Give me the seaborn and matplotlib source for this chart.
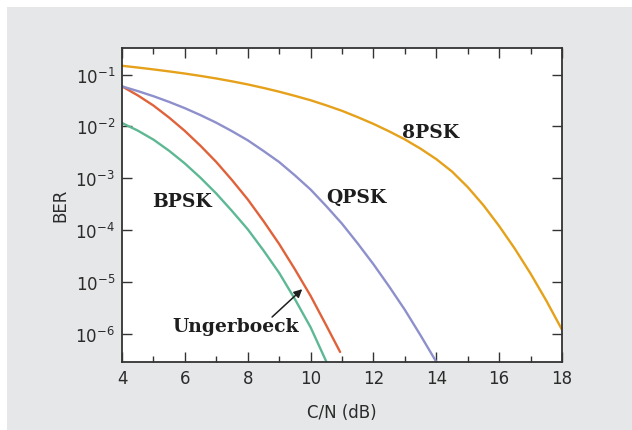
import numpy as np
import pandas as pd
import matplotlib
matplotlib.use("Agg")
import matplotlib.pyplot as plt
import seaborn as sns
from matplotlib.patches import Rectangle
from matplotlib.ticker import LogLocator, MultipleLocator, NullLocator, FuncFormatter

# Values (C/N in dB, BER)
cn_bpsk = [4, 4.5, 5, 5.5, 6, 6.5, 7, 7.5, 8, 8.5, 9, 9.5, 10, 10.5]
ber_bpsk = [1.164e-2, 8.32e-3, 5.57e-3, 3.39e-3, 1.93e-3, 1.02e-3, 5.08e-4, 2.34e-4,
            1.04e-4, 4.07e-5, 1.50e-5, 4.68e-6, 1.34e-6, 2.92e-7]

cn_ung = [4, 4.5, 5, 5.5, 6, 6.5, 7, 7.5, 8, 8.5, 9, 9.5, 10, 10.5, 10.94]
ber_ung = [5.93e-2, 3.98e-2, 2.53e-2, 1.48e-2, 8.18e-3, 4.22e-3, 2.06e-3, 9.23e-4,
           3.92e-4, 1.50e-4, 5.41e-5, 1.76e-5, 5.41e-6, 1.45e-6, 4.47e-7]

cn_qpsk = [4, 4.5, 5, 5.5, 6, 6.5, 7, 7.5, 8, 8.5, 9, 9.5, 10, 10.5, 11, 11.5, 12, 12.5, 13, 13.5, 14]
ber_qpsk = [5.93e-2, 4.81e-2, 3.83e-2, 2.97e-2, 2.25e-2, 1.65e-2, 1.18e-2, 8.09e-3,
            5.41e-3, 3.37e-3, 2.06e-3, 1.14e-3, 6.07e-4, 2.90e-4, 1.33e-4, 5.53e-5,
            2.20e-5, 8.18e-6, 2.90e-6, 9.33e-7, 2.88e-7]

cn_8psk = [4, 4.5, 5, 5.5, 6, 6.5, 7, 7.5, 8, 8.5, 9, 9.5, 10, 10.5, 11, 11.5, 12, 12.5,
           13, 13.5, 14, 14.5, 15, 15.5, 16, 16.5, 17, 17.5, 18]
ber_8psk = [0.1479, 0.1368, 0.1259, 0.1151, 0.1047, 0.0942, 0.0841, 0.0741, 0.0646,
            0.0553, 0.0468, 0.0389, 0.0320, 0.0255, 0.0200, 0.0151, 0.0112, 8.04e-3,
            5.62e-3, 3.72e-3, 2.34e-3, 1.35e-3, 6.76e-4, 3.02e-4, 1.20e-4, 4.37e-5,
            1.45e-5, 4.37e-6, 1.20e-6]

series = {"BPSK": (cn_bpsk, ber_bpsk), "Ungerboeck": (cn_ung, ber_ung),
          "QPSK": (cn_qpsk, ber_qpsk), "8PSK": (cn_8psk, ber_8psk)}
colors = {"BPSK": "#5db894", "Ungerboeck": "#e0623a", "QPSK": "#8e90cc", "8PSK": "#e6a11a"}

df = pd.concat([pd.DataFrame({"cn": x, "ber": y, "scheme": k}) for k, (x, y) in series.items()],
               ignore_index=True)

sns.set_style("ticks")
plt.rcParams['font.family'] = ['DejaVu Sans']
plt.rcParams['mathtext.default'] = 'regular'
plt.rcParams['axes.unicode_minus'] = False

fig = plt.figure(figsize=(6.32, 4.31), dpi=100, facecolor="white")
# grey panel behind the chart
fig.patches.append(Rectangle((7 / 632, 0), 1, 1 - 8 / 431, transform=fig.transFigure,
                             facecolor="#e6e7e8", edgecolor="none", zorder=-10))
ax = fig.add_axes([122 / 632, 1 - 362.7 / 431, 440 / 632, (362.7 - 48.7) / 431])
ax.set_zorder(5)
ax.set_facecolor("white")

sns.lineplot(data=df, x="cn", y="ber", hue="scheme", palette=colors, ax=ax,
             linewidth=1.7, legend=False, sort=False, estimator=None)

ax.set_yscale("log")
ax.set_xlim(4, 18)
ax.set_ylim(2.9e-7, 0.33)
ax.xaxis.set_major_locator(MultipleLocator(2))
ax.xaxis.set_minor_locator(MultipleLocator(1))
ax.yaxis.set_major_locator(LogLocator(base=10, numticks=12))
ax.yaxis.set_major_formatter(FuncFormatter(lambda v, p: "$10^{%d}$" % round(np.log10(v))))
ax.yaxis.set_minor_locator(NullLocator())

ax.tick_params(which="both", direction="in", top=True, right=True, colors="#333333",
               labelsize=12, labelcolor="#2b2b2b", width=1)
ax.tick_params(which="major", length=7, pad=5)
ax.tick_params(which="minor", length=4)
for s in ax.spines.values():
    s.set_linewidth(1.3)
    s.set_color("#333333")

ax.set_xlabel("C/N (dB)", fontsize=12, color="#2b2b2b", labelpad=12)
ax.set_ylabel("BER", fontsize=12, color="#2b2b2b", labelpad=4)

lab = dict(fontsize=13.5, fontweight="bold", family="DejaVu Serif", color="#1e1e1e",
           ha="center", va="center")
ax.text(5.91, 3.66e-4, "BPSK", **lab)
ax.text(11.47, 4.4e-4, "QPSK", **lab)
ax.text(13.83, 7.8e-3, "8PSK", **lab)
ax.text(7.61, 1.43e-6, "Ungerboeck", **lab)
ax.annotate("", xy=(9.80, 7.9e-6), xytext=(8.71, 1.94e-6),
            arrowprops=dict(arrowstyle="-|>", color="#1e1e1e", lw=1.1, mutation_scale=12))

fig.savefig("out.png", dpi=100)
